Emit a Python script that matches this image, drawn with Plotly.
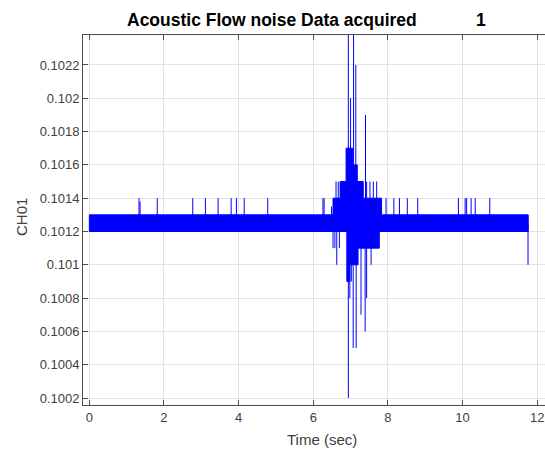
import plotly.graph_objects as go

# ---------------- data ----------------
# upper / lower envelope of the dense quantised CH01 signal (step intervals)
hi_t = [0.0, 6.53, 6.73, 6.88, 7.06, 7.18, 7.34, 7.83, 11.76]
hi_v = [0.1013, 0.1014, 0.1015, 0.1017, 0.1016, 0.1015, 0.1014, 0.1013]
lo_t = [0.0, 6.90, 6.98, 7.20, 7.77, 11.76]
lo_v = [0.1012, 0.1009, 0.1010, 0.1011, 0.1012]

# isolated excursions (time, value)
spike_t = [1.33, 1.36, 1.82, 2.77, 3.11, 3.45, 3.80, 3.94, 4.15, 4.78,
           6.26, 6.29, 6.49, 6.61, 6.67, 6.72, 6.94, 7.00, 7.08, 7.14, 7.12,
           7.40, 7.43, 7.52, 7.61, 7.70,
           7.81, 7.95, 8.16, 8.31, 8.52, 8.80, 9.89, 10.07, 10.11, 10.23,
           10.34, 10.73,
           6.53, 6.58, 6.63, 6.70, 6.94, 6.98, 7.02, 7.07, 7.15, 7.28, 7.39,
           7.43, 7.55, 11.755]
spike_v = [0.1014, 0.10138, 0.1014, 0.1014, 0.1014, 0.1014, 0.1014, 0.1014, 0.1014, 0.1014,
           0.1014, 0.1014, 0.10135, 0.1015, 0.1015, 0.1015, 0.10245, 0.1020, 0.10245, 0.1022, 0.1016,
           0.1019, 0.1015, 0.1015, 0.1015, 0.1015,
           0.1014, 0.1014, 0.1014, 0.1014, 0.1014, 0.1014, 0.1014, 0.1014, 0.1014, 0.1014,
           0.1014, 0.1014,
           0.1011, 0.1011, 0.1010, 0.1011, 0.1002, 0.1008, 0.1009, 0.1005, 0.1005, 0.1007, 0.1006,
           0.1008, 0.1010, 0.1010]

x_ticks = [0, 2, 4, 6, 8, 10, 12]
y_ticks = [0.1002, 0.1004, 0.1006, 0.1008, 0.1010, 0.1012, 0.1014, 0.1016, 0.1018, 0.1020, 0.1022]
y_ticktext = ["0.1002", "0.1004", "0.1006", "0.1008", "0.101", "0.1012", "0.1014",
              "0.1016", "0.1018", "0.102", "0.1022"]

title_text = "Acoustic Flow noise Data acquired"
title_num = "1"

# ---------------- build traces ----------------
bx, by = [], []
for i, v in enumerate(hi_v):
    bx += [hi_t[i], hi_t[i + 1]]
    by += [v, v]
for i in reversed(range(len(lo_v))):
    bx += [lo_t[i + 1], lo_t[i]]
    by += [lo_v[i], lo_v[i]]
bx.append(bx[0]); by.append(by[0])

sx, sy = [], []
base = (hi_v[0] + lo_v[0]) / 2
for t, v in zip(spike_t, spike_v):
    sx += [t, t, None]
    sy += [base, v, None]

BLUE = "#0000ff"
fig = go.Figure()
fig.add_trace(go.Scatter(x=bx, y=by, mode="lines", fill="toself", fillcolor=BLUE,
                         line=dict(color=BLUE, width=1), hoverinfo="skip", showlegend=False))
fig.add_trace(go.Scatter(x=sx, y=sy, mode="lines", line=dict(color=BLUE, width=1),
                         hoverinfo="skip", showlegend=False))

# body margin is removed in the page, so figure pixels == window pixels
W, H = 545, 450
L, R, T, B = 83, 0, 35, 45
pw, ph = W - L - R, H - T - B

def px_x(p):  # window pixel -> paper coordinate
    return (p - L) / pw

def px_y(p):
    return 1 + (T - p) / ph

font = "Liberation Sans, Arial, sans-serif"
axis_common = dict(showgrid=True, gridcolor="#e3e3e3", gridwidth=1, zeroline=False,
                   showline=True, linecolor="#4d4d4d", linewidth=1, automargin=False,
                   ticks="inside", ticklen=5, tickcolor="#4d4d4d",
                   tickfont=dict(family=font, size=13, color="#404040"))

fig.update_layout(
    width=W, height=H, margin=dict(l=L, r=R, t=T, b=B, autoexpand=False),
    paper_bgcolor="white", plot_bgcolor="white",
    xaxis=dict(range=[-0.17, 12.21], tickvals=x_ticks, mirror="ticks",
               ticklabeloverflow="allow", **axis_common),
    yaxis=dict(range=[0.100158, 0.10238], tickvals=y_ticks, ticktext=y_ticktext,
               mirror=False, **axis_common),
    annotations=[
        dict(text="<b>" + title_text + "</b>", x=px_x(272), y=px_y(20), xref="paper", yref="paper",
             showarrow=False, xanchor="center", yanchor="middle",
             font=dict(family=font, size=17.5, color="black")),
        dict(text="<b>" + title_num + "</b>", x=px_x(481), y=px_y(20), xref="paper", yref="paper",
             showarrow=False, xanchor="center", yanchor="middle",
             font=dict(family=font, size=17.5, color="black")),
        dict(text="Time (sec)", x=px_x(322), y=px_y(440), xref="paper", yref="paper",
             showarrow=False, xanchor="center", yanchor="middle",
             font=dict(family=font, size=15, color="#404040")),
        dict(text="CH01", x=px_x(21), y=px_y(217), xref="paper", yref="paper",
             showarrow=False, xanchor="center", yanchor="middle", textangle=-90,
             font=dict(family=font, size=15, color="#404040")),
    ],
)

fig.write_html(
    "out.html",
    config={"displayModeBar": False},
    post_script="document.body.style.margin='0';"
                "document.documentElement.style.overflow='hidden';"
                "document.body.style.overflow='hidden';",
)
